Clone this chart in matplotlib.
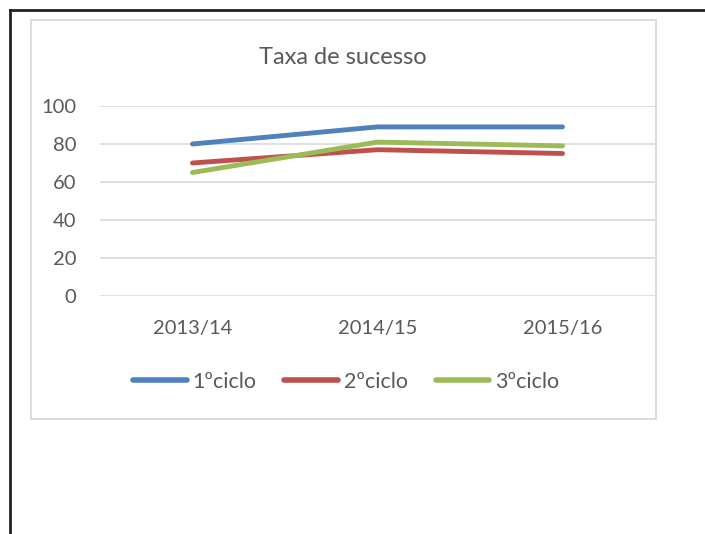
import matplotlib.pyplot as plt
from matplotlib.lines import Line2D
from matplotlib.patches import Rectangle

# data
years = ['2013/14', '2014/15', '2015/16']
ciclo1 = [80, 89, 89]
ciclo2 = [70, 77, 75]
ciclo3 = [65, 81, 79]
series_names = ['1ºciclo', '2ºciclo', '3ºciclo']
colors = ['#4F81BD', '#C0504D', '#9BBB59']

W, H = 705, 534
text_color = '#595959'
plt.rcParams['font.family'] = ['Lato', 'DejaVu Sans']

fig = plt.figure(figsize=(W / 100, H / 100), dpi=100)

# outer page border (top and left only)
fig.add_artist(Line2D([10 / W, 1], [1 - 10 / H, 1 - 10 / H], transform=fig.transFigure,
                      color='#222222', lw=2))
fig.add_artist(Line2D([10 / W, 10 / W], [1 - 10 / H, 0], transform=fig.transFigure,
                      color='#222222', lw=2))

# chart area box
fig.add_artist(Rectangle((31 / W, 1 - 419 / H), (656 - 31) / W, (419 - 20) / H,
                         transform=fig.transFigure, fill=False,
                         edgecolor='#D9D9D9', lw=1.3))

# plot area
ax = fig.add_axes([100 / W, 1 - 296 / H, (655 - 100) / W, (296 - 106) / H])
x = range(len(years))
for vals, name, c in zip([ciclo1, ciclo2, ciclo3], series_names, colors):
    ax.plot(x, vals, color=c, lw=3.5, solid_capstyle='round', label=name,
            clip_on=False, zorder=3)

ax.set_xlim(-0.5, len(years) - 0.5)
ax.set_ylim(0, 100)
ax.set_yticks(range(0, 101, 20))
ax.set_xticks(list(x))
ax.set_xticklabels(years)
ax.grid(axis='y', color='#D9D9D9', lw=1.2)
ax.set_axisbelow(True)
for s in ax.spines.values():
    s.set_visible(False)
ax.tick_params(axis='both', length=0, labelsize=14.5, colors=text_color)
ax.tick_params(axis='y', pad=17)
ax.tick_params(axis='x', pad=17)

fig.text(343 / W, 1 - 57 / H, 'Taxa de sucesso', ha='center', va='center',
         fontsize=17, color=text_color)

leg = fig.legend(loc='center', bbox_to_anchor=(346 / W, 1 - 382 / H), ncol=3,
                 frameon=False, fontsize=15.5, handlelength=2.5, handletextpad=0.25,
                 columnspacing=1.3)
for t in leg.get_texts():
    t.set_color(text_color)
for h in leg.legend_handles:
    h.set_linewidth(4)

fig.savefig('out.png', dpi=100)
